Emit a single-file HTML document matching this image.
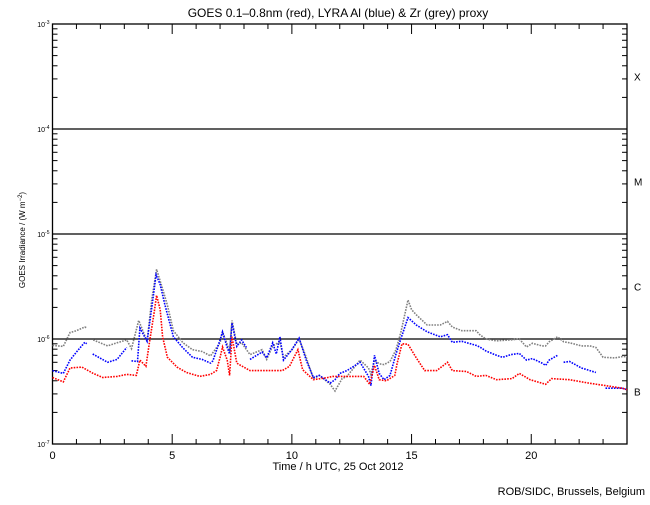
<!DOCTYPE html>
<html><head><meta charset="utf-8"><style>
body{margin:0;background:#fff}
svg text{font-family:"Liberation Sans",sans-serif;fill:#000}
</style></head><body>
<svg id="c" width="650" height="500" xmlns="http://www.w3.org/2000/svg">
<text x="338" y="17" font-size="12" text-anchor="middle">GOES 0.1–0.8nm (red), LYRA Al (blue) &amp; Zr (grey) proxy</text>
<text x="338" y="470" font-size="11" text-anchor="middle">Time / h UTC, 25 Oct 2012</text>
<text transform="translate(25,240) rotate(-90)" font-size="8" text-anchor="middle">GOES Irradiance / (W m<tspan dy="-3" font-size="6">−2</tspan><tspan dy="3">)</tspan></text>
<text x="645" y="495" font-size="11" text-anchor="end">ROB/SIDC, Brussels, Belgium</text>
<g id="axes"></g><g id="series"></g>
</svg>
<script>
const decades=[-3,-4,-5,-6,-7];
const xTicks=[0,5,10,15,20];
const classLabels=["X","M","C","B"];
const classValues=[3.16e-4,3.16e-5,3.16e-6,3.16e-7];
const redT=[0,0.45,0.73,1.23,1.7,2.1,2.7,3.1,3.5,3.65,3.9,4.05,4.25,4.35,4.5,4.6,4.8,5.2,5.6,6.15,6.6,6.85,7.0,7.1,7.3,7.4,7.5,7.7,7.8,8.25,8.95,9.6,9.9,10.25,10.45,10.9,11.5,11.7,12.1,12.4,13.0,13.25,13.45,13.65,13.95,14.3,14.4,14.6,14.85,15.2,15.55,16.05,16.5,16.7,17.3,17.7,18.1,18.55,19.2,19.5,19.95,20.6,20.85,21.6,22.4,23.1,23.8,24];
const redV=[4.3e-7,3.9e-7,5.3e-7,5.4e-7,4.7e-7,4.3e-7,4.4e-7,4.6e-7,4.5e-7,6.3e-7,5.5e-7,9.2e-7,1.8e-6,2.6e-6,1.9e-6,1.05e-6,6.7e-7,5.4e-7,4.8e-7,4.4e-7,4.6e-7,5e-7,6.7e-7,8.4e-7,6.3e-7,4.5e-7,1.05e-6,5.9e-7,5.7e-7,5e-7,5e-7,5e-7,5.5e-7,7.9e-7,5.1e-7,4.1e-7,4.3e-7,4.4e-7,4.4e-7,4.4e-7,4.4e-7,3.7e-7,5.6e-7,4.1e-7,4e-7,4.5e-7,5.9e-7,9e-7,8.9e-7,6.6e-7,5e-7,5e-7,6e-7,5e-7,4.9e-7,4.4e-7,4.5e-7,4.1e-7,4.2e-7,4.7e-7,4.1e-7,3.7e-7,4.2e-7,4.1e-7,3.8e-7,3.6e-7,3.4e-7,3.3e-7];
const blueT=[0,0.45,0.73,1.0,1.35,1.43,null,1.68,2.3,2.7,3.1,null,3.3,3.55,3.65,3.95,4.15,4.33,4.5,4.7,5.05,5.45,5.85,6.25,6.6,6.7,7.0,7.1,7.3,7.4,7.5,7.7,7.9,8.1,null,8.25,8.75,8.95,9.2,9.35,9.5,9.65,10.0,10.3,10.6,10.9,11.15,11.6,11.8,12.0,12.3,12.85,13.2,13.3,13.45,13.65,13.85,14.1,14.35,14.55,14.85,15.2,15.65,16.2,16.5,16.7,17.1,17.7,17.85,18.1,18.55,18.8,19.15,19.5,19.8,20.05,20.45,20.6,20.75,21.1,null,21.35,21.6,22.1,22.45,22.7,null,23.1,23.8,24];
const blueV=[5e-7,4.7e-7,6.3e-7,7.5e-7,9.3e-7,9e-7,null,7.2e-7,6e-7,6.4e-7,8.3e-7,null,6.2e-7,6.1e-7,1.27e-6,9.5e-7,2.0e-6,4.1e-6,3.3e-6,2.1e-6,1.05e-6,8.2e-7,6.7e-7,6.4e-7,5.9e-7,6.2e-7,9.8e-7,1.17e-6,8.3e-7,7.2e-7,1.42e-6,8.5e-7,9.8e-7,8.3e-7,null,6.4e-7,7.5e-7,6.6e-7,9.2e-7,7.2e-7,1.05e-6,6.3e-7,7.9e-7,1.02e-6,6.3e-7,4.3e-7,4.5e-7,3.8e-7,4.1e-7,4.7e-7,5e-7,6e-7,4.4e-7,3.6e-7,7e-7,4.7e-7,4.1e-7,4.5e-7,7.2e-7,1.0e-6,1.6e-6,1.36e-6,1.17e-6,1.05e-6,1.1e-6,9.3e-7,9.5e-7,8.7e-7,8.4e-7,7.7e-7,7e-7,6.7e-7,7.1e-7,7.3e-7,6.3e-7,6.5e-7,5.9e-7,5.6e-7,6.3e-7,7e-7,null,6e-7,6.1e-7,5.3e-7,5e-7,4.8e-7,null,3.4e-7,3.4e-7,3.3e-7];
const greyT=[0,0.45,0.73,1.0,1.35,1.45,null,1.7,2.3,2.7,3.1,3.3,3.6,3.95,4.15,4.35,4.6,4.8,5.05,5.45,5.85,6.25,6.6,7.0,7.1,7.3,7.4,7.5,7.7,7.9,8.25,8.75,8.95,9.2,9.5,9.65,10.0,10.3,10.6,10.9,11.15,11.6,11.8,12.1,12.3,12.85,13.2,13.3,13.45,13.65,13.85,14.1,14.35,14.55,14.85,15.0,15.2,15.65,16.2,16.5,16.7,17.1,17.7,17.85,18.1,18.55,18.8,19.15,19.5,19.8,20.05,20.45,20.6,20.75,21.1,21.35,21.6,22.1,22.45,22.7,23.0,23.5,23.8,24];
const greyV=[8.7e-7,8.5e-7,1.15e-6,1.2e-6,1.3e-6,1.27e-6,null,9.8e-7,8.6e-7,9.2e-7,9.8e-7,8.1e-7,1.5e-6,9.5e-7,2.4e-6,4.6e-6,3.0e-6,2.1e-6,1.2e-6,9.2e-7,7.9e-7,7.6e-7,6.9e-7,9.2e-7,1.17e-6,8.9e-7,7.6e-7,1.5e-6,8.9e-7,9.2e-7,7.1e-7,7.9e-7,6.4e-7,8.6e-7,9.4e-7,6.7e-7,7.9e-7,1.0e-6,6.7e-7,4.2e-7,4.5e-7,3.7e-7,3.2e-7,4.2e-7,4.4e-7,6.3e-7,5.3e-7,4.6e-7,6.3e-7,5.8e-7,5.7e-7,6.1e-7,7.9e-7,1.15e-6,2.35e-6,1.9e-6,1.7e-6,1.36e-6,1.36e-6,1.47e-6,1.3e-6,1.2e-6,1.2e-6,1.1e-6,1.0e-6,9.6e-7,9.7e-7,9.8e-7,1.0e-6,8.4e-7,9.1e-7,8.6e-7,8.6e-7,9.4e-7,1.05e-6,9.4e-7,9.2e-7,8.6e-7,8.6e-7,8.3e-7,6.7e-7,6.6e-7,6.8e-7,6.8e-7];
const NS="http://www.w3.org/2000/svg";
const X0=52.5,X1=627,Y0=24,DEC=105;
const xs=t=>X0+t*(X1-X0)/24;
const ys=v=>Y0+(-3-Math.log10(v))*DEC;
function mk(tag,attrs,parent){const e=document.createElementNS(NS,tag);for(const k in attrs)e.setAttribute(k,attrs[k]);parent.appendChild(e);return e;}
const ax=document.getElementById('axes');
let f=mk('rect',{x:X0,y:Y0,width:X1-X0,height:4*DEC,fill:'none',stroke:'#000','stroke-width':1.3},ax);


decades.forEach((d,i)=>{
  const y=ys(Math.pow(10,d));
  const lb=mk('text',{x:X0-3,y:y+3,'font-size':7,'text-anchor':'end'},ax);
  lb.innerHTML='10<tspan dy="-3" font-size="5">'+d+'</tspan>';
  
  
  if(d<-3&&d>-7){const g=mk('line',{x1:X0,x2:X1,y1:y,y2:y,stroke:'#000','stroke-width':1.3},ax);
    
    }
  if(d>-7){for(let m=2;m<=9;m++){const yy=ys(m*Math.pow(10,d-1));
    const t1=mk('line',{x1:X0,x2:X0+5,y1:yy,y2:yy,stroke:'#000'},ax);
    
    
    const t2=mk('line',{x1:X1-5,x2:X1,y1:yy,y2:yy,stroke:'#000'},ax);
    
    }}
});
for(let h=1;h<24;h++){const x=xs(h);const L=h%5===0?10:5;
  const a=mk('line',{x1:x,x2:x,y1:Y0+4*DEC,y2:Y0+4*DEC-L,stroke:'#000'},ax);
  
  
  const b=mk('line',{x1:x,x2:x,y1:Y0,y2:Y0+L,stroke:'#000'},ax);
  
  }
xTicks.forEach(t=>{const l=mk('text',{x:xs(t),y:Y0+4*DEC+15,'font-size':11,'text-anchor':'middle'},ax);l.textContent=t;
  
  });
classLabels.forEach((c,i)=>{const l=mk('text',{x:634,y:ys(classValues[i])+4,'font-size':10},ax);l.textContent=c;
  
  });
const sg=document.getElementById('series');
function draw(T,V,color,name){
  let segs=[],cur='';
  T.forEach((t,i)=>{if(t===null||V[i]===null){if(cur)segs.push(cur);cur='';return;}
    cur+=(cur?'L':'M')+xs(t).toFixed(1)+' '+ys(V[i]).toFixed(1);});
  if(cur)segs.push(cur);
  const p=mk('path',{d:segs.join(' '),fill:'none',stroke:color,'stroke-width':1.6,'stroke-dasharray':'1.6 1.2'},sg);
  
  
}
draw(greyT,greyV,'#808080','zr-grey-series');
draw(blueT,blueV,'#0000ff','al-blue-series');
draw(redT,redV,'#ff0000','goes-red-series');
</script>
</body></html>
